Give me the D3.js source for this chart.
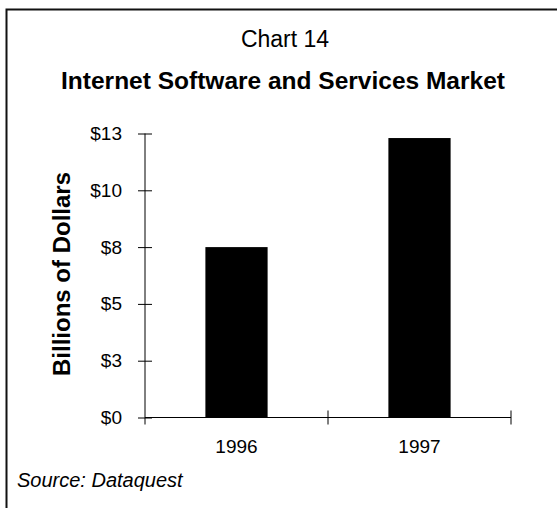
<!DOCTYPE html>
<html>
<head>
<meta charset="utf-8">
<script src="https://cdn.jsdelivr.net/npm/d3@7"></script>
<style>
  html, body { margin: 0; padding: 0; background: #fff; }
  svg { display: block; }
  text { font-family: Arial, "Liberation Sans", sans-serif; fill: #000; }
</style>
</head>
<body>
<svg id="chart" width="557" height="508"></svg>
<script>
// Market size by year, billions of dollars
const years = ["1996", "1997"];
const marketValues = [7.5, 12.3];
const yTickValues = [0, 2.5, 5, 7.5, 10, 12.5];

const svg = d3.select("#chart");

// frame around the exhibit
svg.append("path")
  .attr("d", "M6.5,508 V9.5 H557")
  .attr("fill", "none")
  .attr("stroke", "#111")
  .attr("stroke-width", 2);

// headings
svg.append("text")
  .attr("x", 285).attr("y", 47)
  .attr("text-anchor", "middle")
  .style("font-size", "23px")
  .text("Chart 14");

svg.append("text")
  .attr("x", 283).attr("y", 89)
  .attr("text-anchor", "middle")
  .style("font-size", "24.5px")
  .style("font-weight", "bold")
  .text("Internet Software and Services Market");

const plot = { left: 145, right: 511, top: 133.5, bottom: 417.5 };

const x = d3.scaleBand()
  .domain(years)
  .range([plot.left, plot.right])
  .padding(0);

const y = d3.scaleLinear()
  .domain([0, 12.5])
  .range([plot.bottom, plot.top]);

const barFrac = 0.34;
const barW = x.bandwidth() * barFrac;

// bars
svg.append("g")
  .selectAll("rect")
  .data(years.map((yr, i) => ({ yr, v: marketValues[i] })))
  .join("rect")
  .attr("x", d => x(d.yr) + (x.bandwidth() - barW) / 2)
  .attr("y", d => y(d.v))
  .attr("width", barW)
  .attr("height", d => y(0) - y(d.v))
  .attr("fill", "#000");

// y axis with ticks crossing the axis line
const yAxis = svg.append("g")
  .attr("transform", `translate(${plot.left},0)`)
  .call(d3.axisLeft(y)
    .tickValues(yTickValues)
    .tickFormat(d => "$" + Math.round(d))
    .tickSizeInner(7)
    .tickSizeOuter(0)
    .tickPadding(16));
yAxis.select(".domain").remove();
yAxis.selectAll(".tick line").attr("x1", -7).attr("x2", 7).attr("stroke", "#000");
yAxis.selectAll(".tick text")
  .style("font-size", "19px")
  .style("font-family", "Arial, 'Liberation Sans', sans-serif");
yAxis.append("line")
  .attr("x1", 0).attr("x2", 0)
  .attr("y1", y(12.5)).attr("y2", plot.bottom + 7)
  .attr("stroke", "#000");

// x axis: baseline, category boundary ticks, labels at band centres
const xAxis = svg.append("g");
xAxis.append("line")
  .attr("x1", plot.left).attr("x2", plot.right)
  .attr("y1", plot.bottom).attr("y2", plot.bottom)
  .attr("stroke", "#000");
const boundaries = years.map(yr => x(yr)).concat([x(years[years.length - 1]) + x.bandwidth()]);
xAxis.selectAll("line.tick")
  .data(boundaries.slice(1))
  .join("line")
  .attr("class", "tick")
  .attr("x1", d => d).attr("x2", d => d)
  .attr("y1", plot.bottom - 7).attr("y2", plot.bottom + 7)
  .attr("stroke", "#000");
xAxis.selectAll("text")
  .data(years)
  .join("text")
  .attr("x", d => x(d) + x.bandwidth() / 2)
  .attr("y", 453)
  .attr("text-anchor", "middle")
  .style("font-size", "19px")
  .text(d => d);

// y axis title
svg.append("text")
  .attr("transform", `translate(70,274) rotate(-90)`)
  .attr("text-anchor", "middle")
  .style("font-size", "24px")
  .style("font-weight", "bold")
  .text("Billions of Dollars");

// source note
svg.append("text")
  .attr("x", 17).attr("y", 487)
  .style("font-size", "20px")
  .style("font-style", "italic")
  .text("Source: Dataquest");
</script>
</body>
</html>
